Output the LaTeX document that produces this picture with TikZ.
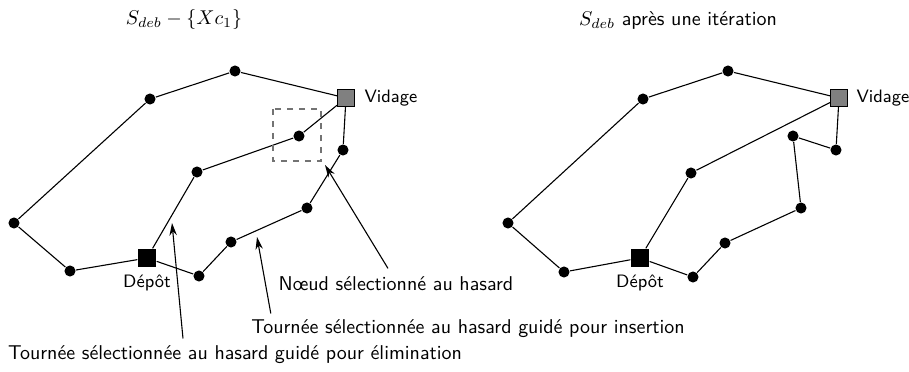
\documentclass[tikz,border=0pt]{standalone}
\usepackage{amsmath,amssymb}
\usetikzlibrary{arrows.meta}

\tikzset{
  client/.style={circle, fill=black, inner sep=0pt, minimum size=0.195cm},
  depot/.style={rectangle, fill=black, inner sep=0pt, minimum size=0.32cm},
  vidage/.style={rectangle, draw=black, fill=gray, inner sep=0pt, minimum size=0.30cm},
  etiq/.style={font=\sffamily, inner sep=1pt},
  petit/.style={font=\sffamily\small, inner sep=1pt},
  fleche/.style={-{Stealth[length=2.2mm,width=1.3mm]}},
}

\begin{document}
\begin{tikzpicture}[x=0.0176cm, y=-0.0176cm, line width=0.55pt]
    \useasboundingbox (0,0) rectangle (909,372);

    % solution de depart moins la tournee eliminee
    \node at (184,20) {$S_{deb} - \{Xc_1\}$};
    \node[client] (la) at (235,71) {};
    \node[client] (lb) at (150,99) {};
    \node[client] (lc) at (14,223) {};
    \node[client] (ld) at (70,271) {};
    \node[depot] (ldep) at (147,258) {};
    \node[client] (le) at (199,276) {};
    \node[client] (lf) at (231,242) {};
    \node[client] (lg) at (307,208) {};
    \node[client] (lh) at (343,150) {};
    \node[client] (li) at (299,136) {};
    \node[client] (lj) at (197,172) {};
    \node[vidage] (lvid) at (346,98) {};
    \node[petit, anchor=west] at (lvid.east) [xshift=3.5pt] {Vidage};
    \node[petit] at (147,283) {Dépôt};

        \draw (ldep) -- (ld) -- (lc) -- (lb) -- (la) -- (lvid);
        \draw (ldep) -- (lj) -- (li) -- (lvid);
        \draw (ldep) -- (le) -- (lf) -- (lg) -- (lh) -- (lvid);
        \draw[dashed, gray!90!black, thick] (273,109) rectangle (321,161);

    % etiquettes et fleches
    \node[etiq] (noeud) at (396,284) {Nœud sélectionné au hasard};
    \node[etiq] (insert) at (468,329) {Tournée sélectionnée au hasard guidé pour insertion};
    \node[etiq] (elim) at (235,355) {Tournée sélectionnée au hasard guidé pour élimination};
    \coordinate (pnoeud) at (325,165);
    \coordinate (pinsert) at (257,237);
    \coordinate (pelim) at (172,223);
        \draw[fleche] (noeud.north) ++(-8,-6) -- (pnoeud);
        \draw[fleche] (insert.north west) ++(22,-4) -- (pinsert);
        \draw[fleche] (elim.north) ++(-52,-5) -- (pelim);

    % solution apres une iteration
    \node at (678,21) {$S_{deb}$ \textsf{après une itération}};
    \node[client] (ra) at (728,71) {};
    \node[client] (rb) at (643,99) {};
    \node[client] (rc) at (508,223) {};
    \node[client] (rd) at (564,272) {};
    \node[depot] (rdep) at (640,258) {};
    \node[client] (re) at (693,277) {};
    \node[client] (rf) at (725,243) {};
    \node[client] (rg) at (801,208) {};
    \node[client] (rh) at (836,150) {};
    \node[client] (ri) at (793,136) {};
    \node[client] (rj) at (691,173) {};
    \node[vidage] (rvid) at (839,98) {};
    \node[petit, anchor=west] at (rvid.east) [xshift=3pt] {Vidage};
    \node[petit] at (640,283) {Dépôt};

        \draw (rdep) -- (rd) -- (rc) -- (rb) -- (ra) -- (rvid);
        \draw (rdep) -- (rj) -- (rvid);
        \draw (rdep) -- (re) -- (rf) -- (rg) -- (ri) -- (rh) -- (rvid);
\end{tikzpicture}
\end{document}
